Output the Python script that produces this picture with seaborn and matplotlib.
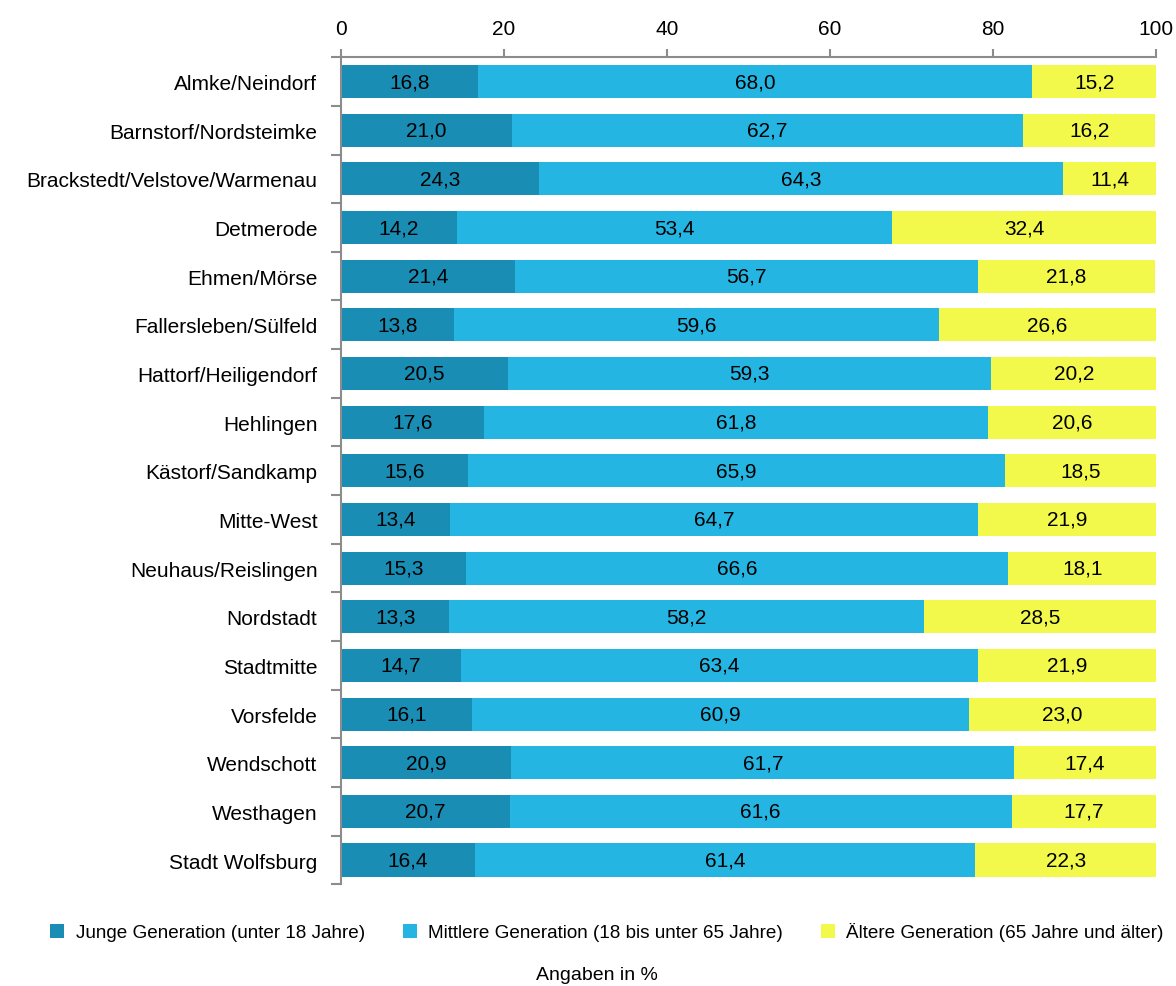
import numpy as np
import pandas as pd
import seaborn as sns
import matplotlib.pyplot as plt
from matplotlib.patches import Patch

# Daten: Altersstruktur nach Ortsteilen
ortsteile = ['Almke/Neindorf', 'Barnstorf/Nordsteimke', 'Brackstedt/Velstove/Warmenau',
             'Detmerode', 'Ehmen/Mörse', 'Fallersleben/Sülfeld', 'Hattorf/Heiligendorf',
             'Hehlingen', 'Kästorf/Sandkamp', 'Mitte-West', 'Neuhaus/Reislingen',
             'Nordstadt', 'Stadtmitte', 'Vorsfelde', 'Wendschott', 'Westhagen',
             'Stadt Wolfsburg']
junge = [16.8, 21.0, 24.3, 14.2, 21.4, 13.8, 20.5, 17.6, 15.6, 13.4, 15.3, 13.3, 14.7, 16.1, 20.9, 20.7, 16.4]
mittlere = [68.0, 62.7, 64.3, 53.4, 56.7, 59.6, 59.3, 61.8, 65.9, 64.7, 66.6, 58.2, 63.4, 60.9, 61.7, 61.6, 61.4]
aeltere = [15.2, 16.2, 11.4, 32.4, 21.8, 26.6, 20.2, 20.6, 18.5, 21.9, 18.1, 28.5, 21.9, 23.0, 17.4, 17.7, 22.3]

legende = ['Junge Generation (unter 18 Jahre)',
           'Mittlere Generation (18 bis unter 65 Jahre)',
           'Ältere Generation (65 Jahre und älter)']
farben = ['#1a8db4', '#25b5e3', '#f3f94b']

df = pd.DataFrame({'ort': ortsteile, 'junge': junge, 'mittlere': mittlere, 'aeltere': aeltere})
df['cum1'] = df['junge']
df['cum2'] = df['junge'] + df['mittlere']
df['cum3'] = df['cum2'] + df['aeltere']

sns.set_style('white')
plt.rcParams['font.family'] = ['Liberation Sans', 'DejaVu Sans']
plt.rcParams['text.color'] = 'black'
plt.rcParams['xtick.color'] = 'black'
plt.rcParams['ytick.color'] = 'black'
fs = 15

fig = plt.figure(figsize=(11.76, 9.87), dpi=100)
ax = fig.add_axes([0.29, 0.103, 0.693, 0.838])

# gestapelte Balken: von hinten nach vorne
for col, c in zip(['cum3', 'cum2', 'cum1'], farben[::-1]):
    sns.barplot(data=df, x=col, y='ort', color=c, orient='h', width=0.68,
                saturation=1, ax=ax, linewidth=0)

# Werte beschriften
for i, row in df.iterrows():
    ax.text(row['junge'] / 2, i, f"{row['junge']:.1f}".replace('.', ','),
            ha='center', va='center', fontsize=fs)
    ax.text(row['cum1'] + row['mittlere'] / 2, i, f"{row['mittlere']:.1f}".replace('.', ','),
            ha='center', va='center', fontsize=fs)
    ax.text(row['cum2'] + row['aeltere'] / 2, i, f"{row['aeltere']:.1f}".replace('.', ','),
            ha='center', va='center', fontsize=fs)

ax.set_xlim(0, 100)
ax.set_ylim(len(ortsteile) - 0.5, -0.5)
ax.set_xlabel('')
ax.set_ylabel('')
ax.xaxis.tick_top()
ax.set_xticks([0, 20, 40, 60, 80, 100])
ax.tick_params(axis='x', labelsize=fs, length=6, width=1.5, color='#8c8c8c',
               labelcolor='black', direction='out', pad=8)
ax.set_yticks(np.arange(len(ortsteile)))
ax.set_yticklabels(ortsteile, fontsize=fs)
ax.tick_params(axis='y', which='major', left=False, length=0, pad=17, labelcolor='black')
# Trennstriche zwischen Kategorien
ax.set_yticks(np.arange(-0.5, len(ortsteile)), minor=True)
ax.tick_params(axis='y', which='minor', left=True, length=7, width=1.5,
               color='#8c8c8c', direction='out')

for s in ['right', 'bottom']:
    ax.spines[s].set_visible(False)
for s in ['top', 'left']:
    ax.spines[s].set_color('#8c8c8c')
    ax.spines[s].set_linewidth(1.5)

handles = [Patch(facecolor=c, edgecolor='none') for c in farben]
fig.legend(handles, legende, loc='center', bbox_to_anchor=(0.516, 0.055), ncol=3,
           frameon=False, fontsize=13.6, handlelength=0.75, handleheight=0.75,
           handletextpad=0.6, columnspacing=2.0)
fig.text(0.508, 0.012, 'Angaben in %', ha='center', va='center', fontsize=14)

fig.savefig('out.png', dpi=100)
